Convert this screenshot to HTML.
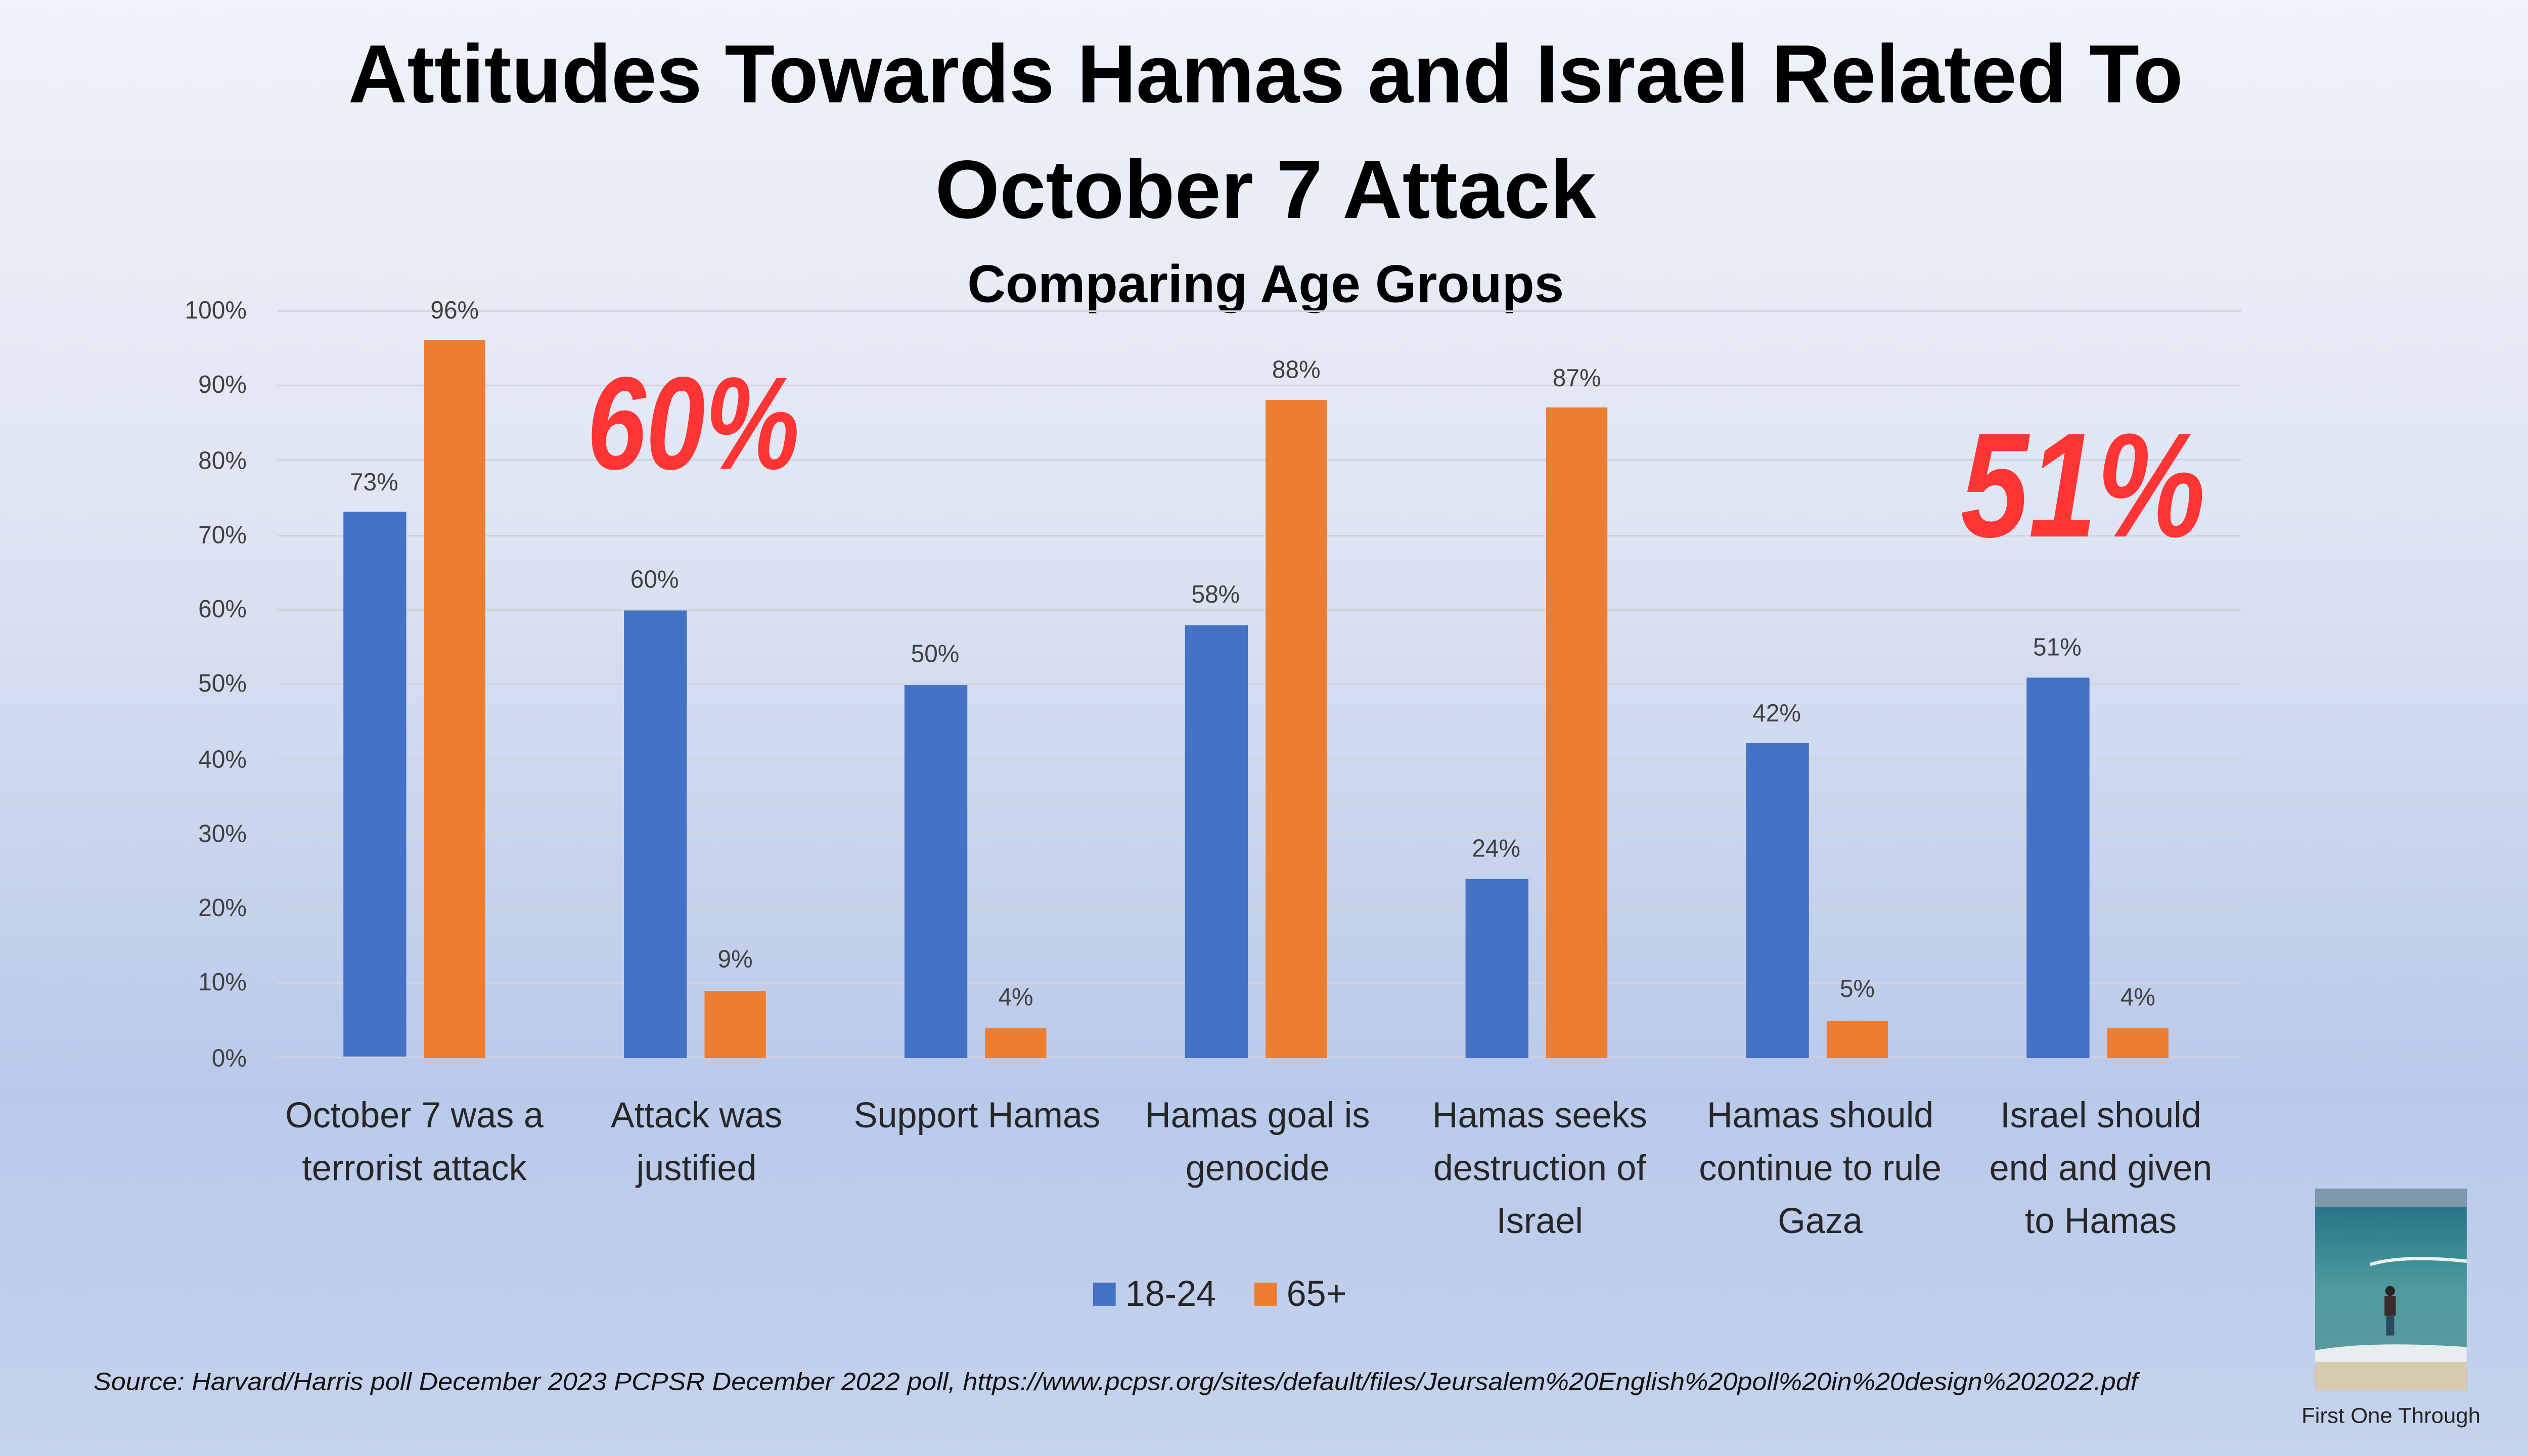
<!DOCTYPE html>
<html><head><meta charset="utf-8"><style>
html,body{margin:0;padding:0;width:100%;height:100%;overflow:hidden;}
svg{display:block;position:absolute;left:0;top:0;width:100vw;height:100vh;}
text{font-family:"Liberation Sans",sans-serif;}
</style></head><body>
<svg viewBox="0 0 1568 882" preserveAspectRatio="none" xmlns="http://www.w3.org/2000/svg">
<defs>
<linearGradient id="bg" x1="0" y1="0" x2="0" y2="1">
<stop offset="0" stop-color="#f1f3fa"/>
<stop offset="0.35" stop-color="#dfe5f3"/>
<stop offset="0.75" stop-color="#b9c9ea"/>
<stop offset="1" stop-color="#c6d3ee"/>
</linearGradient>
<linearGradient id="sea" x1="0" y1="0" x2="0" y2="1">
<stop offset="0" stop-color="#1d6c80"/>
<stop offset="0.5" stop-color="#4f9a9f"/>
<stop offset="1" stop-color="#5a9a9c"/>
</linearGradient>
</defs>
<rect width="1568" height="882" fill="url(#bg)"/>
<text x="785" y="62" text-anchor="middle" font-weight="bold" font-size="50" fill="#000" textLength="1138" lengthAdjust="spacingAndGlyphs">Attitudes Towards Hamas and Israel Related To</text>
<text x="785" y="132" text-anchor="middle" font-weight="bold" font-size="50" fill="#000" textLength="410" lengthAdjust="spacingAndGlyphs">October 7 Attack</text>
<text x="785" y="183" text-anchor="middle" font-weight="bold" font-size="32" fill="#000" textLength="370" lengthAdjust="spacingAndGlyphs">Comparing Age Groups</text>
<g stroke="#d0d4dc" stroke-width="1">
<line x1="172" x2="1390" y1="188.5" y2="188.5"/>
<line x1="172" x2="1390" y1="233.5" y2="233.5"/>
<line x1="172" x2="1390" y1="278.5" y2="278.5"/>
<line x1="172" x2="1390" y1="324.5" y2="324.5"/>
<line x1="172" x2="1390" y1="369.5" y2="369.5"/>
<line x1="172" x2="1390" y1="414.5" y2="414.5"/>
<line x1="172" x2="1390" y1="459.5" y2="459.5"/>
<line x1="172" x2="1390" y1="504.5" y2="504.5"/>
<line x1="172" x2="1390" y1="550.5" y2="550.5"/>
<line x1="172" x2="1390" y1="595.5" y2="595.5"/>
<line x1="172" x2="1390" y1="640.5" y2="640.5"/>
</g>
<g font-size="15" fill="#404040" text-anchor="end">
<text x="153" y="193">100%</text><text x="153" y="238">90%</text><text x="153" y="284">80%</text>
<text x="153" y="329">70%</text><text x="153" y="374">60%</text><text x="153" y="419">50%</text>
<text x="153" y="465">40%</text><text x="153" y="510">30%</text><text x="153" y="555">20%</text>
<text x="153" y="600">10%</text><text x="153" y="646">0%</text>
</g>
<g fill="#4472c4">
<rect x="213" y="310" width="39" height="330"/>
<rect x="387" y="369.8" width="39" height="271.2"/>
<rect x="561" y="415" width="39" height="226"/>
<rect x="735" y="378.8" width="39" height="262.2"/>
<rect x="909" y="532.5" width="39" height="108.5"/>
<rect x="1083" y="450.2" width="39" height="190.8"/>
<rect x="1257" y="410.5" width="39" height="230.5"/>
</g>
<g fill="#ed7d31">
<rect x="263" y="206.1" width="38" height="434.9"/>
<rect x="437" y="600.3" width="38" height="40.7"/>
<rect x="611" y="622.9" width="38" height="18.1"/>
<rect x="785" y="242.2" width="38" height="398.8"/>
<rect x="959" y="246.8" width="38" height="394.2"/>
<rect x="1133" y="618.4" width="38" height="22.6"/>
<rect x="1307" y="622.9" width="38" height="18.1"/>
</g>
<g font-size="15" fill="#404040" text-anchor="middle">
<text x="232" y="297">73%</text><text x="282" y="193">96%</text>
<text x="406" y="356">60%</text><text x="456" y="586">9%</text>
<text x="580" y="401">50%</text><text x="630" y="609">4%</text>
<text x="754" y="365">58%</text><text x="804" y="229">88%</text>
<text x="928" y="519">24%</text><text x="978" y="234">87%</text>
<text x="1102" y="437">42%</text><text x="1152" y="604">5%</text>
<text x="1276" y="397">51%</text><text x="1326" y="609">4%</text>
</g>
<g font-size="22" fill="#262626" text-anchor="middle">
<text x="257" y="683">October 7 was a</text><text x="257" y="715">terrorist attack</text>
<text x="432" y="683">Attack was</text><text x="432" y="715">justified</text>
<text x="606" y="683">Support Hamas</text>
<text x="780" y="683">Hamas goal is</text><text x="780" y="715">genocide</text>
<text x="955" y="683">Hamas seeks</text><text x="955" y="715">destruction of</text><text x="955" y="747">Israel</text>
<text x="1129" y="683">Hamas should</text><text x="1129" y="715">continue to rule</text><text x="1129" y="747">Gaza</text>
<text x="1303" y="683">Israel should</text><text x="1303" y="715">end and given</text><text x="1303" y="747">to Hamas</text>
</g>
<rect x="678" y="777" width="14" height="14" fill="#4472c4"/>
<text x="698" y="791" font-size="22" fill="#262626">18-24</text>
<rect x="778" y="777" width="14" height="14" fill="#ed7d31"/>
<text x="798" y="791" font-size="22" fill="#262626">65+</text>
<text x="58" y="842" font-size="15" font-style="italic" fill="#111" textLength="1268" lengthAdjust="spacingAndGlyphs">Source: Harvard/Harris poll December 2023  PCPSR December 2022  poll, https://www.pcpsr.org/sites/default/files/Jeursalem%20English%20poll%20in%20design%202022.pdf</text>
<text x="364" y="284" font-size="80" font-weight="bold" font-style="italic" fill="#ff3535" textLength="132" lengthAdjust="spacingAndGlyphs">60%</text>
<text x="1216" y="325" font-size="90" font-weight="bold" font-style="italic" fill="#ff3535" textLength="152" lengthAdjust="spacingAndGlyphs">51%</text>
<g>
<rect x="1436" y="720" width="94" height="122" fill="url(#sea)"/>
<rect x="1436" y="720" width="94" height="11" fill="#7f98ac"/>
<path d="M1436 818 Q1470 812 1530 816 L1530 826 L1436 826 Z" fill="#e8eef0"/>
<path d="M1470 766 Q1490 760 1530 764" stroke="#eaf2f2" stroke-width="2" fill="none"/>
<rect x="1436" y="825" width="94" height="17" fill="#d8ccb0"/>
<rect x="1479" y="785" width="7" height="12" fill="#3a2a2a"/>
<circle cx="1482.5" cy="782" r="3" fill="#2a2020"/>
<rect x="1480" y="797" width="5" height="12" fill="#2a4a60"/>
</g>
<text x="1483" y="862" font-size="13" fill="#222" text-anchor="middle" textLength="111" lengthAdjust="spacingAndGlyphs">First One Through</text>
</svg>
</body></html>
